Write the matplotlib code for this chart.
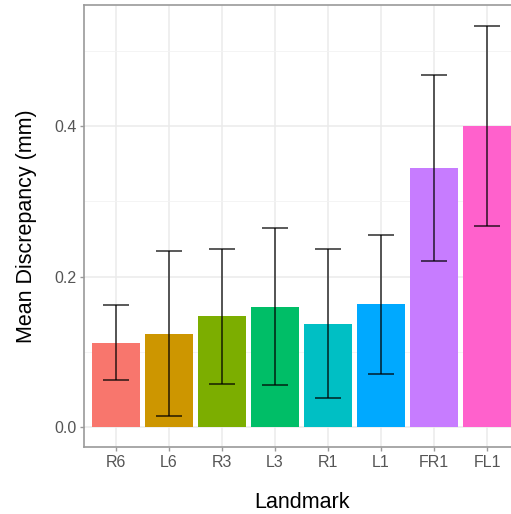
import numpy as np
import matplotlib.pyplot as plt
from matplotlib.ticker import MultipleLocator

plt.rcParams['font.family'] = ['Liberation Sans', 'DejaVu Sans']

landmarks = ['R6', 'L6', 'R3', 'L3', 'R1', 'L1', 'FR1', 'FL1']
mean_disc = [0.112, 0.124, 0.147, 0.160, 0.137, 0.163, 0.344, 0.400]
sd_disc = [0.050, 0.110, 0.090, 0.104, 0.099, 0.092, 0.124, 0.133]
colors = ['#F8766D', '#CD9600', '#7CAE00', '#00BE67',
          '#00BFC4', '#00A9FF', '#C77CFF', '#FF61CC']

fig = plt.figure(figsize=(5.11, 5.14), dpi=100)
ax = fig.add_axes([0.1644, 0.1304, 0.8513, 0.8599])

x = np.arange(1, len(landmarks) + 1)
ax.bar(x, mean_disc, width=0.9, color=colors, zorder=2)
ax.errorbar(x, mean_disc, yerr=sd_disc, fmt='none', ecolor='black',
            alpha=0.7, elinewidth=1.3, capsize=9.5, capthick=1.3, zorder=3)

ax.set_xlim(0.4, len(landmarks) + 0.6)
ax.set_ylim(-0.0266, 0.561)
ax.set_xticks(x)
ax.set_xticklabels(landmarks)
ax.yaxis.set_major_locator(MultipleLocator(0.2))
ax.yaxis.set_minor_locator(MultipleLocator(0.1))
ax.set_yticks([0.0, 0.2, 0.4])
ax.set_yticklabels(['0.0', '0.2', '0.4'])

ax.grid(True, which='major', color='#EBEBEB', linewidth=1.1, zorder=0)
ax.grid(True, which='minor', axis='y', color='#F2F2F2', linewidth=0.6, zorder=0)
ax.set_axisbelow(True)

for s in ax.spines.values():
    s.set_color('#9A9A9A')
    s.set_linewidth(1.2)

ax.tick_params(axis='both', which='major', colors='#9A9A9A', length=3,
               width=1, labelcolor='#555555', labelsize=11.5, pad=2.5)
ax.tick_params(axis='y', which='minor', length=0)

ax.set_xlabel('Landmark', fontsize=15.5, labelpad=16)
ax.set_ylabel('Mean Discrepancy (mm)', fontsize=15.5, labelpad=12)

plt.savefig('out.png', dpi=100)
